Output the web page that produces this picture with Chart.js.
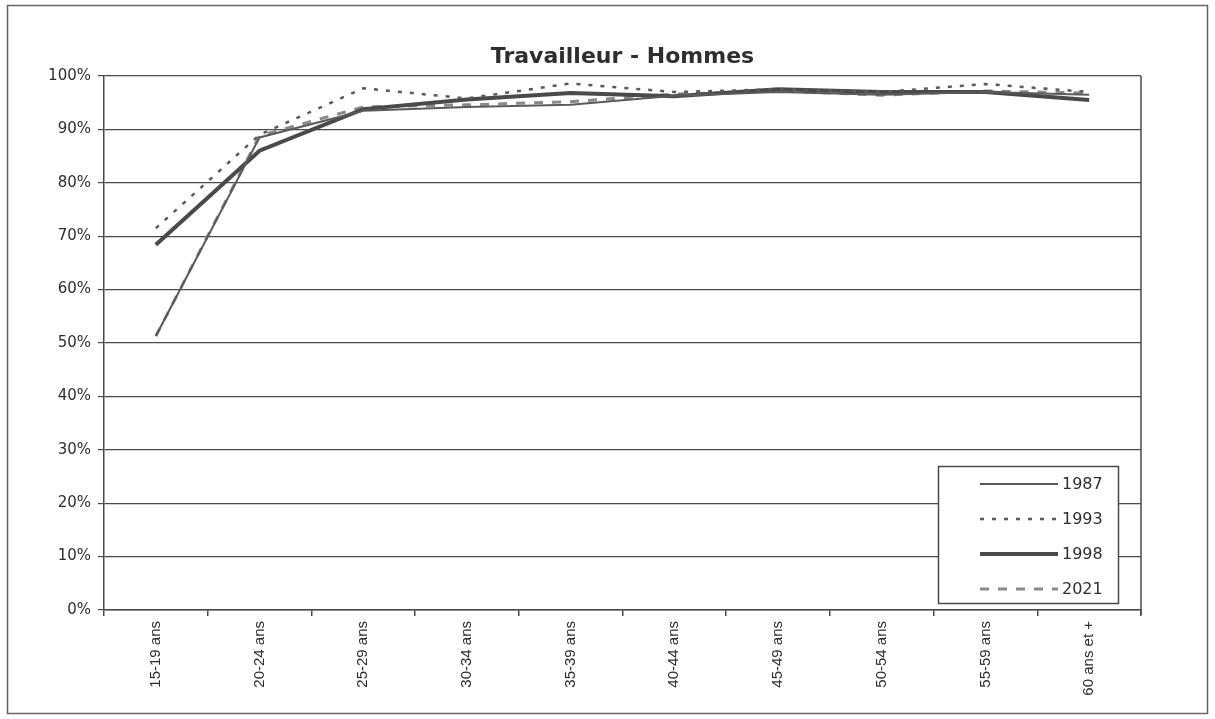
<!DOCTYPE html>
<html>
<head>
<meta charset="utf-8">
<script src="https://cdn.jsdelivr.net/npm/chart.js@4.4.1/dist/chart.umd.min.js"></script>
<style>
	* { box-sizing: border-box; }
	html, body { margin: 0; padding: 0; background: #fff; }
	#wrap { width: 1215px; height: 719px; position: relative; }
</style>
</head>
<body>
<div id="wrap"><canvas id="chart"></canvas></div>
<script>
const categories = ["15-19 ans", "20-24 ans", "25-29 ans", "30-34 ans", "35-39 ans",
	"40-44 ans", "45-49 ans", "50-54 ans", "55-59 ans", "60 ans et +"];

const yTicks = [0, 10, 20, 30, 40, 50, 60, 70, 80, 90, 100];

const s1987 = [51.3, 88.5, 93.5, 94.2, 94.6, 96.3, 97.0, 96.5, 97.0, 96.5];
const s1993 = [71.5, 89.0, 97.7, 95.8, 98.6, 97.0, 97.5, 97.0, 98.5, 97.0];
const s1998 = [68.4, 86.0, 93.8, 95.6, 96.8, 96.2, 97.5, 97.0, 97.0, 95.5];
const s2021 = [51.3, 88.8, 94.2, 94.6, 95.2, 96.6, 97.2, 96.4, 97.2, 96.8];

const title = "Travailleur - Hommes";

const ink = "#4a4a4a";
const text = "#2e2e2e";
const wide = "'DejaVu Sans', sans-serif";
const narrow = "'Liberation Sans', Arial, sans-serif";

function series(label, data, width, dash, color)
{
	return {label, data, borderColor: color, borderWidth: width, borderDash: dash,
		pointRadius: 0, fill: false, tension: 0};
}

// frame, title over the plot, right border and the boxed legend
const decor = {
	id: 'decor',
	beforeDraw(chart)
	{
		const c = chart.ctx;
		c.save();
		c.fillStyle = "#fff";
		c.fillRect(0, 0, chart.width, chart.height);
		c.strokeStyle = "#666";
		c.lineWidth = 1.5;
		c.strokeRect(7.5, 5.5, 1200, 708);
		c.restore();
	},
	afterDraw(chart)
	{
		const c = chart.ctx, a = chart.chartArea;
		c.save();
		c.fillStyle = text;
		c.font = "bold 22px " + wide;
		c.textAlign = "center";
		c.textBaseline = "middle";
		c.fillText(title, (a.left + a.right) / 2, a.top - 19);

		c.strokeStyle = ink;
		c.lineWidth = 1.5;
		c.beginPath();
		c.moveTo(a.right, a.top);
		c.lineTo(a.right, a.bottom + 5);
		c.stroke();

		const x0 = 938, y0 = 466, w = 180, h = 137;
		c.fillStyle = "#fff";
		c.fillRect(x0, y0, w, h);
		c.strokeRect(x0 + 0.5, y0 + 0.5, w, h);
		c.font = "16px " + wide;
		c.textAlign = "left";
		chart.data.datasets.forEach((ds, i) =>
		{
			const y = y0 + 18 + i * 35;
			c.strokeStyle = ds.borderColor;
			c.lineWidth = ds.borderWidth;
			c.setLineDash(ds.borderDash);
			c.beginPath();
			c.moveTo(x0 + 42, y);
			c.lineTo(x0 + 120, y);
			c.stroke();
			c.setLineDash([]);
			c.fillStyle = text;
			c.fillText(ds.label, x0 + 124, y + 1);
		});
		c.restore();
	}
};

new Chart(document.getElementById("chart"), {
	type: 'line',
	data: {
		labels: categories,
		datasets: [
			series("1987", s1987, 2, [], "#5a5a5a"),
			series("1993", s1993, 2.5, [4, 8], "#5a5a5a"),
			series("1998", s1998, 4, [], "#4a4a4a"),
			series("2021", s2021, 3, [9, 9], "#8a8a8a")
		]
	},
	options: {
		responsive: true,
		maintainAspectRatio: false,
		animation: false,
		layout: {padding: {left: 0, right: 74, top: 76, bottom: 0}},
		plugins: {
			legend: {display: false},
			tooltip: {enabled: false},
			title: {display: false}
		},
		scales: {
			x: {
				offset: true,
				grid: {display: true, drawOnChartArea: false, offset: true, tickLength: 6, color: ink, lineWidth: 1.5},
				border: {color: ink, width: 1.5},
				ticks: {color: text, font: {family: narrow, size: 15}, maxRotation: 90, minRotation: 90, padding: 5, autoSkip: false},
				afterFit: s => { s.height = 109; }
			},
			y: {
				min: 0,
				max: 100,
				afterBuildTicks: s => { s.ticks = yTicks.map(value => ({value})); },
				grid: {color: ink, lineWidth: 1.2, tickLength: 6},
				border: {color: ink, width: 1.5},
				ticks: {color: text, font: {family: wide, size: 15}, padding: 7, callback: v => v + "%"},
				afterFit: s => { s.width = 104; }
			}
		}
	},
	plugins: [decor]
});
</script>
</body>
</html>
